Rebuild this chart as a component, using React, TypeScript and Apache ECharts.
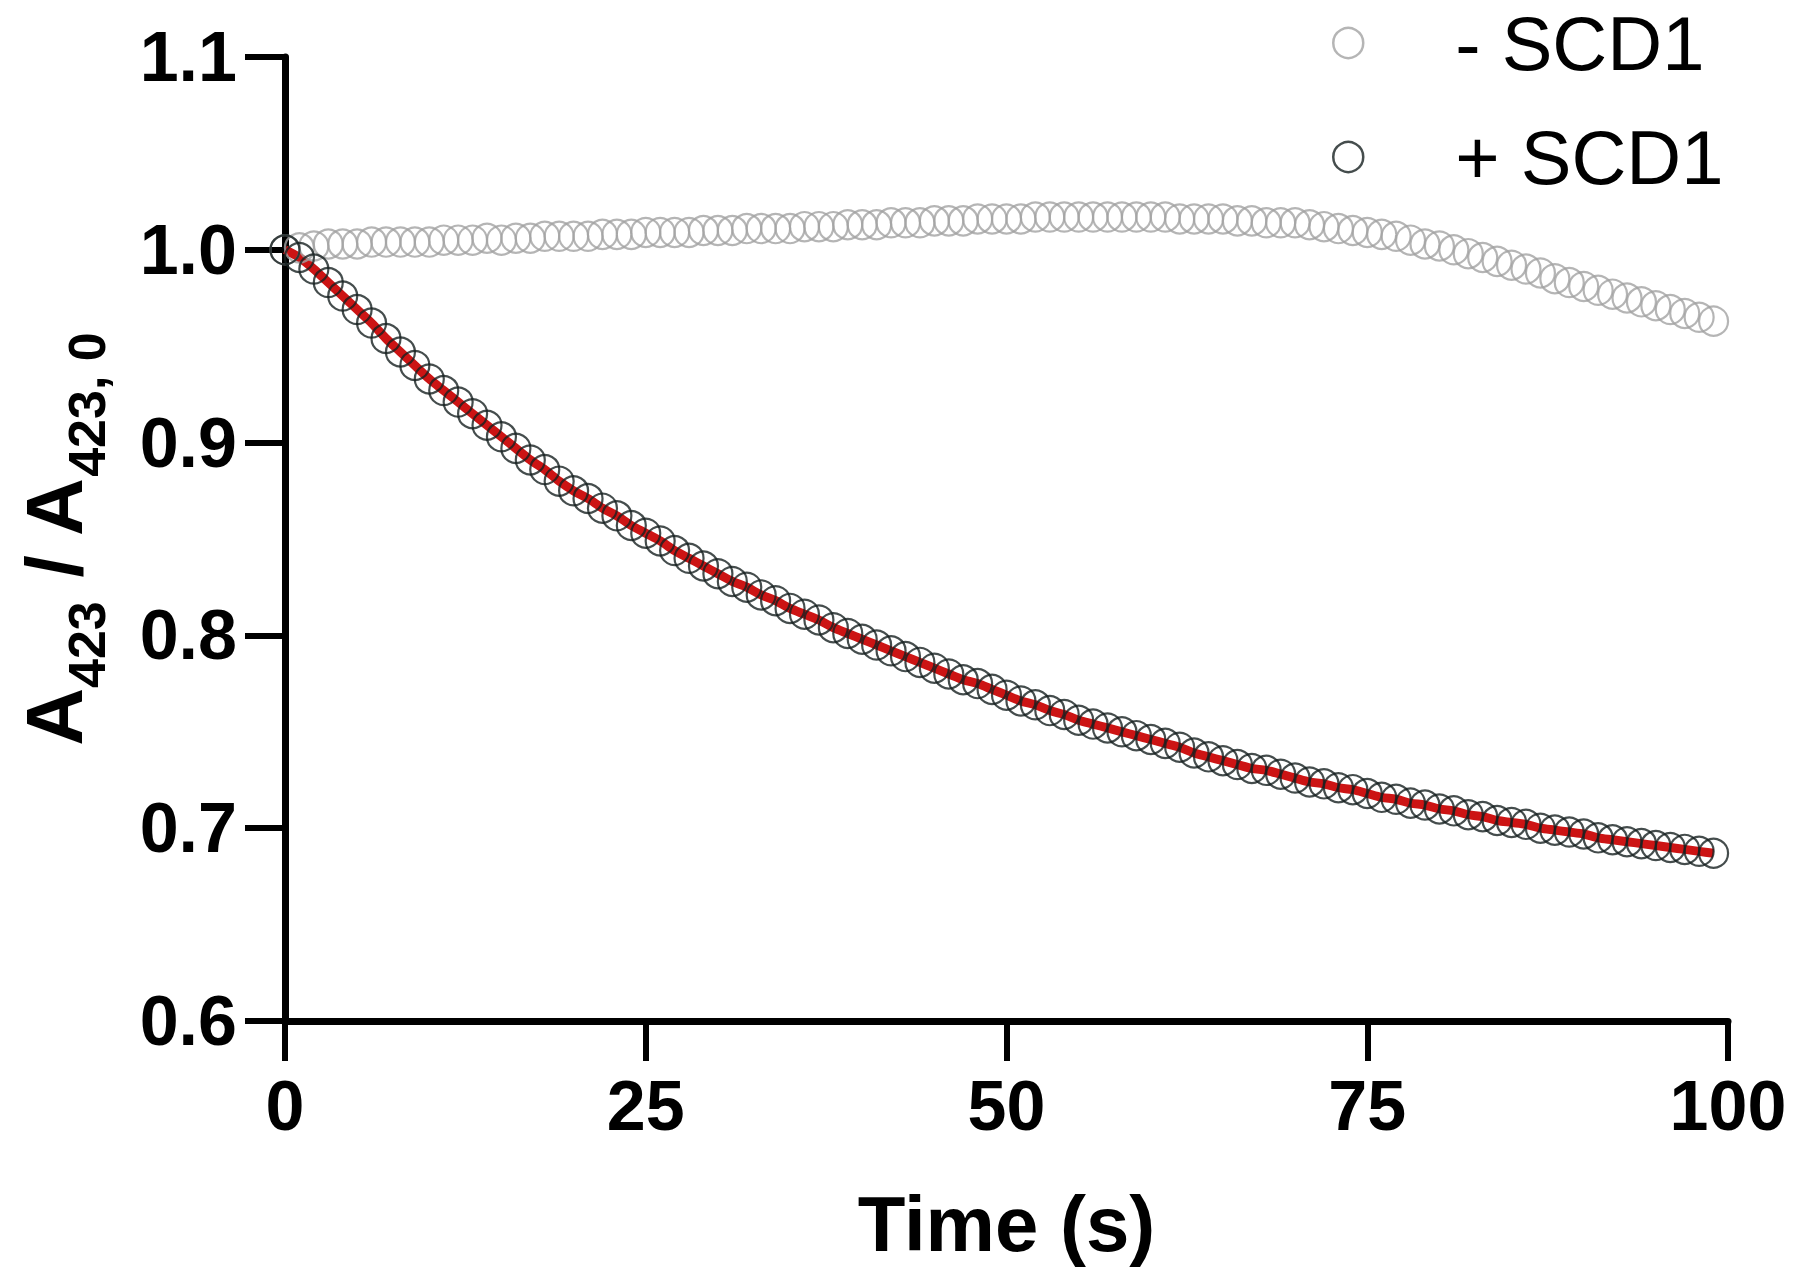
import React, { useEffect, useRef } from "react";
import * as echarts from "echarts";

// Time points (s)
const timeS: number[] = [
  0, 1, 2, 3, 4, 5, 6, 7, 8, 9, 10, 11, 12, 13, 14, 15, 16, 17, 18, 19,
  20, 21, 22, 23, 24, 25, 26, 27, 28, 29, 30, 31, 32, 33, 34, 35, 36, 37, 38, 39,
  40, 41, 42, 43, 44, 45, 46, 47, 48, 49, 50, 51, 52, 53, 54, 55, 56, 57, 58, 59,
  60, 61, 62, 63, 64, 65, 66, 67, 68, 69, 70, 71, 72, 73, 74, 75, 76, 77, 78, 79,
  80, 81, 82, 83, 84, 85, 86, 87, 88, 89, 90, 91, 92, 93, 94, 95, 96, 97, 98, 99,
];

// - SCD1 (grey open circles)
const minusSCD1: number[] = [
  1.000, 1.001, 1.002, 1.003, 1.003, 1.003, 1.004, 1.004, 1.004, 1.004,
  1.004, 1.005, 1.005, 1.005, 1.006, 1.005, 1.006, 1.006, 1.007, 1.007,
  1.007, 1.007, 1.008, 1.008, 1.008, 1.009, 1.009, 1.009, 1.009, 1.010,
  1.010, 1.010, 1.011, 1.011, 1.011, 1.011, 1.012, 1.012, 1.012, 1.013,
  1.013, 1.013, 1.014, 1.014, 1.014, 1.015, 1.015, 1.015, 1.016, 1.016,
  1.016, 1.016, 1.017, 1.017, 1.017, 1.017, 1.017, 1.017, 1.017, 1.017,
  1.017, 1.017, 1.016, 1.016, 1.016, 1.016, 1.015, 1.015, 1.014, 1.014,
  1.014, 1.013, 1.012, 1.011, 1.010, 1.009, 1.008, 1.007, 1.005, 1.003,
  1.002, 1.000, 0.998, 0.996, 0.994, 0.992, 0.990, 0.988, 0.985, 0.983,
  0.981, 0.979, 0.977, 0.975, 0.973, 0.971, 0.969, 0.967, 0.965, 0.963,
];

// + SCD1 (black open circles)
const plusSCD1: number[] = [
  1.000, 0.996, 0.990, 0.983, 0.976, 0.969, 0.962, 0.954, 0.947, 0.940,
  0.933, 0.927, 0.921, 0.915, 0.909, 0.903, 0.897, 0.891, 0.886, 0.880,
  0.875, 0.871, 0.866, 0.862, 0.857, 0.853, 0.849, 0.844, 0.840, 0.836,
  0.832, 0.828, 0.825, 0.821, 0.818, 0.814, 0.811, 0.808, 0.804, 0.801,
  0.798, 0.795, 0.792, 0.789, 0.786, 0.783, 0.780, 0.777, 0.775, 0.772,
  0.769, 0.766, 0.764, 0.761, 0.759, 0.756, 0.754, 0.752, 0.750, 0.748,
  0.746, 0.744, 0.742, 0.739, 0.737, 0.735, 0.733, 0.731, 0.730, 0.728,
  0.726, 0.724, 0.723, 0.721, 0.720, 0.718, 0.716, 0.715, 0.713, 0.712,
  0.710, 0.709, 0.707, 0.706, 0.704, 0.703, 0.702, 0.700, 0.699, 0.698,
  0.697, 0.695, 0.694, 0.693, 0.692, 0.691, 0.690, 0.689, 0.688, 0.687,
];

const xTickValues: number[] = [0, 25, 50, 75, 100];
const yTickValues: number[] = [0.6, 0.7, 0.8, 0.9, 1.0, 1.1];
const seriesNames: string[] = ["- SCD1", "+ SCD1"];

const FONT = "'Liberation Sans', Arial, Helvetica, sans-serif";
const GREY = "#a3a3a3";
const BLACK = "#162020";
const RED = "#cc1414";

export default function App() {
  const ref = useRef<HTMLDivElement | null>(null);

  useEffect(() => {
    if (!ref.current) return;
    const chart = echarts.init(ref.current, undefined, { renderer: "svg" });

    const minusData = timeS.map((t, i) => [t, minusSCD1[i]]);
    const plusData = timeS.map((t, i) => [t, plusSCD1[i]]);

    const option: any = {
      animation: false,
      backgroundColor: "#ffffff",
      grid: {
        left: 285,
        right: 72,
        top: 57,
        bottom: 259,
        containLabel: false,
        outerBoundsMode: "none",
      },
      legend: {
        orient: "vertical",
        left: 1332,
        top: 3,
        padding: 0,
        itemWidth: 30,
        itemHeight: 30,
        itemGap: 34,
        selectedMode: false,
        data: [
          {
            name: seriesNames[0],
            icon: "circle",
            itemStyle: { color: "rgba(0,0,0,0)", borderColor: GREY, borderWidth: 2.5 },
          },
          {
            name: seriesNames[1],
            icon: "circle",
            itemStyle: { color: "rgba(0,0,0,0)", borderColor: BLACK, borderWidth: 2.5 },
          },
        ],
        textStyle: {
          fontFamily: FONT,
          fontSize: 76,
          color: "#000",
          lineHeight: 80,
          padding: [0, 0, 0, 87],
        },
      },
      xAxis: {
        type: "value",
        min: xTickValues[0],
        max: xTickValues[xTickValues.length - 1],
        interval: 25,
        name: "Time (s)",
        nameLocation: "middle",
        nameGap: 164,
        nameTextStyle: {
          fontFamily: FONT,
          fontSize: 78,
          fontWeight: "bold",
          color: "#000",
          lineHeight: 78,
        },
        axisLine: { show: true, onZero: false, lineStyle: { color: "#000", width: 7 } },
        axisTick: { show: true, length: 40, lineStyle: { color: "#000", width: 6 } },
        axisLabel: {
          fontFamily: FONT,
          fontSize: 70,
          fontWeight: "bold",
          color: "#000",
          margin: 50,
          lineHeight: 70,
        },
        splitLine: { show: false },
      },
      yAxis: {
        type: "value",
        min: yTickValues[0],
        max: yTickValues[yTickValues.length - 1],
        interval: 0.1,
        name: "{m|A}{s|423}{m| / A}{s|423, 0}",
        nameLocation: "middle",
        nameRotate: 90,
        nameGap: 176,
        nameTextStyle: {
          fontFamily: FONT,
          color: "#000",
          rich: {
            m: { fontFamily: FONT, fontSize: 80, fontWeight: "bold", color: "#000", lineHeight: 110 },
            s: {
              fontFamily: FONT,
              fontSize: 52,
              fontWeight: "bold",
              color: "#000",
              lineHeight: 110,
              padding: [65, 0, 0, 0],
            },
          },
        },
        axisLine: { show: true, onZero: false, lineStyle: { color: "#000", width: 7 } },
        axisTick: { show: true, length: 40, lineStyle: { color: "#000", width: 6 } },
        axisLabel: {
          fontFamily: FONT,
          fontSize: 70,
          fontWeight: "bold",
          color: "#000",
          margin: 48,
          formatter: (v: number) => v.toFixed(1),
        },
        splitLine: { show: false },
      },
      series: [
        {
          name: "fit",
          type: "line",
          data: plusData,
          showSymbol: false,
          smooth: 0.3,
          z: 2,
          silent: true,
          lineStyle: { color: RED, width: 9 },
          itemStyle: { color: RED },
        },
        {
          name: seriesNames[0],
          type: "scatter",
          data: minusData,
          symbol: "circle",
          symbolSize: 29,
          z: 3,
          silent: true,
          itemStyle: { color: "rgba(0,0,0,0)", borderColor: GREY, borderWidth: 2.2 },
        },
        {
          name: seriesNames[1],
          type: "scatter",
          data: plusData,
          symbol: "circle",
          symbolSize: 29,
          z: 4,
          silent: true,
          itemStyle: { color: "rgba(0,0,0,0)", borderColor: BLACK, borderWidth: 2.2 },
        },
      ],
    };

    chart.setOption(option);
    return () => {
      chart.dispose();
    };
  }, []);

  return (
    <div
      ref={ref}
      style={{ position: "fixed", left: 0, top: 0, width: 1800, height: 1280, background: "#fff" }}
    />
  );
}
